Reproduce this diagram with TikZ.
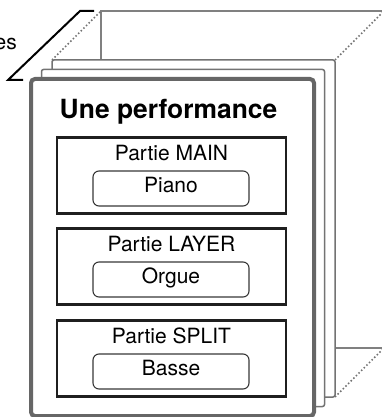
\documentclass[tikz,border=0pt]{standalone}
\usepackage{fontspec}
\setmainfont{TeX Gyre Heros}
\begin{document}
\begin{tikzpicture}[x=1pt,y=-1pt,
	blatt/.style={draw=black!55,line width=1.5pt,fill=white,rounded corners=2pt},
	hinten/.style={draw=black!50,line width=1.2pt,fill=white},
	vorne/.style={draw=black!60,line width=4pt,fill=white,rounded corners=4pt},
	punktlinie/.style={draw=black!55,line width=1.6pt,dash pattern=on 1.5pt off 2.2pt},
	partie/.style={draw=black!88,line width=2.2pt,minimum width=229pt,minimum height=76pt,inner sep=0pt},
	stimme/.style={draw=black!78,line width=1.1pt,rounded corners=6pt,minimum width=156pt,
		minimum height=35pt,inner sep=0pt,text height=15pt,text depth=7pt,font=\fontsize{21}{25}\selectfont},
	titel/.style={anchor=base,inner sep=0pt,font=\fontsize{21}{25}\selectfont}]
\useasboundingbox (0,0) rectangle (382,417);
\clip (0,0) rectangle (382,417);
% Stapel der Performances
\draw[hinten] (101,11) rectangle ++(283,337);
\draw[punktlinie] (52,60) -- (101,11);
\draw[punktlinie] (335,60) -- (384,11);
\draw[punktlinie] (335,397) -- (384,348);
\draw[blatt] (52,60) rectangle ++(283,337);
\draw[blatt] (41.5,69.5) rectangle ++(283,337);
\draw[vorne] (31,79) rectangle ++(283,337);
\draw[black,line width=2pt] (23,80) -- (8,80) -- (80,11) -- (94,11);
\node[anchor=base east,inner sep=0pt,font=\fontsize{21}{25}\selectfont] (anzahl) at (17,50) {es};
\node[anchor=base,inner sep=0pt,font=\fontsize{26.4}{30}\selectfont\bfseries] (kopf) at (168.5,118) {Une performance};
\def\partie#1#2#3#4{
	\node[partie] (#1) at (171.5,#2+38.5) {};
	\node[titel] (#1-name) at (171.5,#2+23) {Partie #3};
	\node[stimme] (#1-stimme) at (171,#2+51.5) {#4};
}
\partie{main}{137}{MAIN}{Piano}
\partie{layer}{228}{LAYER}{Orgue}
\partie{split}{320}{SPLIT}{Basse}
\end{tikzpicture}
\end{document}
